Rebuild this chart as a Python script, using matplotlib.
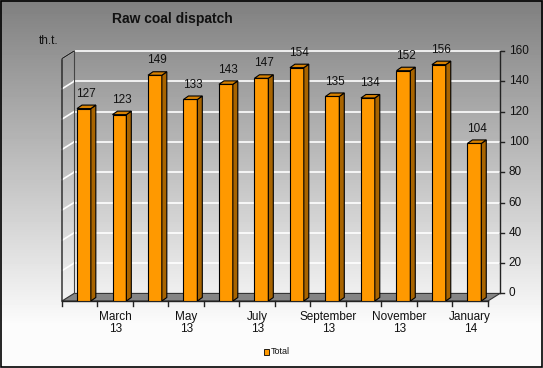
import matplotlib.pyplot as plt
import numpy as np
from matplotlib.patches import Rectangle, Polygon

plt.rcParams['font.family'] = ['Liberation Sans', 'DejaVu Sans']

# =========================================================
# DATA
# =========================================================
months = ['February', 'March', 'April', 'May', 'June', 'July',
          'August', 'September', 'October', 'November', 'December', 'January']
years = ['13', '13', '13', '13', '13', '13', '13', '13', '13', '13', '13', '14']
values = [127, 123, 149, 133, 143, 147, 154, 135, 134, 152, 156, 104]
y_ticks = [0, 20, 40, 60, 80, 100, 120, 140, 160]

title = 'Raw coal dispatch'
unit = 'th.t.'
series_name = 'Total'

# =========================================================
# FIGURE + BACKGROUND GRADIENT
# =========================================================
W_PX, H_PX = 543, 368
fig = plt.figure(figsize=(W_PX / 100, H_PX / 100), dpi=100)

bg = fig.add_axes([0, 0, 1, 1])
rows = np.arange(H_PX)
grad = np.clip(0.50 + (0.98 - 0.50) * rows / 320.0, 0, 0.985)
bg.imshow(grad[:, None], aspect='auto', cmap='gray', vmin=0, vmax=1,
          extent=[0, 1, 0, 1], origin='upper')
bg.set_xlim(0, 1)
bg.set_ylim(0, 1)
bg.axis('off')
bg.add_patch(Rectangle((0.001, 0.002), 0.997, 0.996, transform=bg.transAxes,
                       fill=False, ec='black', lw=1.2))

# =========================================================
# PLOT AREA (fake 3D)
# =========================================================
ax = fig.add_axes([62 / W_PX, (H_PX - 301) / H_PX, 438 / W_PX, 250 / H_PX])
ax.set_xlim(-0.5, 11.84)
ax.set_ylim(0, 165)
ax.axis('off')
ax.patch.set_alpha(0)

n = len(values)
DX, DY = 0.34, 5.0          # wall depth
BW = 0.39                   # bar width
BDX, BDY = 0.14, 2.3        # bar depth
x_left, x_right = -0.5, n - 0.5

# floor
ax.add_patch(Polygon([(x_left, 0), (x_right, 0), (x_right + DX, DY), (x_left + DX, DY)],
                     closed=True, fc='#858585', ec='#333333', lw=0.8, clip_on=False))

# gridlines on back and left wall
for t in y_ticks[1:]:
    ax.plot([x_left + DX, x_right + DX], [t + DY, t + DY], color='white', lw=1.2, clip_on=False)
    ax.plot([x_left, x_left + DX], [t, t + DY], color='white', lw=1.2, clip_on=False)

# wall edges
top = y_ticks[-1]
ax.plot([x_left, x_left, x_left + DX], [0, top, top + DY], color='#222222', lw=1.0, clip_on=False)
ax.plot([x_left + DX, x_left + DX], [DY, top + DY], color='#444444', lw=0.8, clip_on=False)

# right value axis
ax.plot([x_right + DX, x_right + DX], [DY, top + DY], color='#222222', lw=1.0, clip_on=False)
for t in y_ticks:
    ax.plot([x_right + DX, x_right + DX + 0.1], [t + DY, t + DY], color='#222222', lw=1.0, clip_on=False)
    ax.text(x_right + DX + 0.25, t + DY, str(t), ha='left', va='center', fontsize=8.5, color='#111111')

# category axis
ax.plot([x_left, x_right], [0, 0], color='#222222', lw=1.0, clip_on=False)
for k in range(n + 1):
    ax.plot([x_left + k, x_left + k], [0, -3.5], color='#222222', lw=1.0, clip_on=False)
for i in range(1, n, 2):
    ax.text(i, -6.5, months[i] + '\n' + years[i], ha='center', va='top', fontsize=8.5,
            linespacing=1.05, color='#111111', clip_on=False)

# bars
for i, v in enumerate(values):
    x0 = i - 0.077
    ax.add_patch(Rectangle((x0, 0), BW, v, fc='#FF9900', ec='black', lw=0.8, zorder=3))
    ax.add_patch(Polygon([(x0 + BW, 0), (x0 + BW + BDX, BDY), (x0 + BW + BDX, v + BDY), (x0 + BW, v)],
                         closed=True, fc='#A86400', ec='black', lw=0.8, zorder=3))
    ax.add_patch(Polygon([(x0, v), (x0 + BDX, v + BDY), (x0 + BW + BDX, v + BDY), (x0 + BW, v)],
                         closed=True, fc='#D98200', ec='black', lw=0.8, zorder=3))
    ax.text(x0 + BW / 2 + BDX / 2, v + BDY + 3.5, str(v), ha='center', va='bottom',
            fontsize=8.5, color='#111111', zorder=4)

# =========================================================
# TITLE, UNIT, LEGEND
# =========================================================
fig.text(172 / W_PX, 1 - 19 / H_PX, title, ha='center', va='center',
         fontsize=10, fontweight='bold', color='#111111')
fig.text(49 / W_PX, 1 - 41 / H_PX, unit, ha='center', va='center', fontsize=8.5, color='#111111')

bg.add_patch(Rectangle((264 / W_PX, 1 - 355 / H_PX), 5 / W_PX, 6 / H_PX,
                       transform=bg.transAxes, fc='#FF9900', ec='black', lw=0.6))
fig.text(271 / W_PX, 1 - 352 / H_PX, series_name, ha='left', va='center', fontsize=6.5, color='#111111')

plt.savefig('out.png', dpi=100)
plt.close()
